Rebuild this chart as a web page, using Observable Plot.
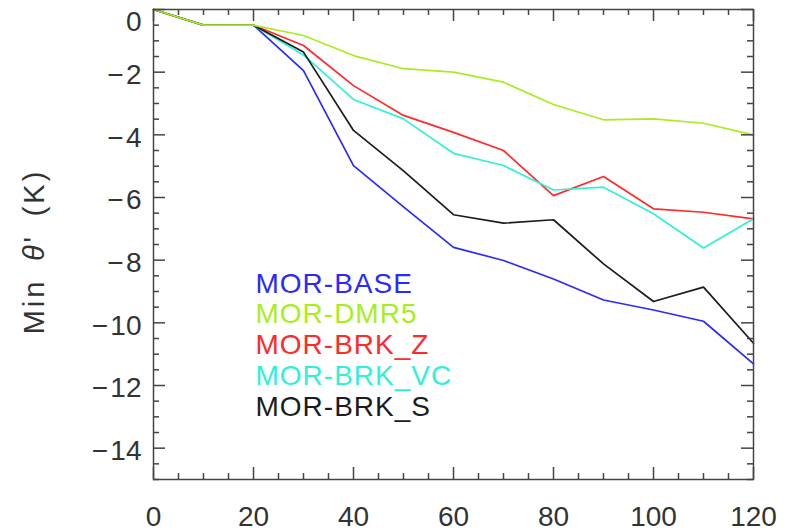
<!DOCTYPE html>
<html><head><meta charset="utf-8">
<script src="https://cdn.jsdelivr.net/npm/d3@7"></script>
<script src="https://cdn.jsdelivr.net/npm/@observablehq/plot@0.6"></script>
<style>body{margin:0;background:#fff}</style>
</head><body><div id="chart"></div>
<script>
// ---- data ----
const times = [0, 10, 20, 30, 40, 50, 60, 70, 80, 90, 100, 110, 120];
const seriesNames = ["MOR-BASE", "MOR-DMR5", "MOR-BRK_Z", "MOR-BRK_VC", "MOR-BRK_S"];
const seriesColors = ["#2a2aff", "#a8ee1c", "#ff2a2a", "#30f0d8", "#1c1c1c"];
const morBase  = [0, -0.5, -0.5, -1.95, -4.98, -6.30, -7.59, -8.01, -8.60, -9.27, -9.59, -9.95, -11.31];
const morDmr5  = [0, -0.5, -0.5, -0.83, -1.47, -1.89, -2.00, -2.32, -3.03, -3.52, -3.49, -3.63, -4.00];
const morBrkZ  = [0, -0.5, -0.5, -1.15, -2.43, -3.38, -3.92, -4.50, -5.94, -5.33, -6.36, -6.47, -6.68];
const morBrkVC = [0, -0.5, -0.5, -1.45, -2.87, -3.49, -4.59, -4.98, -5.76, -5.67, -6.52, -7.61, -6.68];
const morBrkS  = [0, -0.5, -0.5, -1.36, -3.86, -5.15, -6.55, -6.82, -6.71, -8.12, -9.32, -8.86, -10.65];
const xTickLabels = [0, 20, 40, 60, 80, 100, 120];
const yTickLabels = [0, -2, -4, -6, -8, -10, -12, -14];
const yTitle = "Min\u2002\u03B8'\u2002(K)";

// ---- build table ----
const seriesValues = {"MOR-BASE": morBase, "MOR-DMR5": morDmr5, "MOR-BRK_Z": morBrkZ, "MOR-BRK_VC": morBrkVC, "MOR-BRK_S": morBrkS};
const drawOrder = ["MOR-BASE", "MOR-BRK_Z", "MOR-BRK_VC", "MOR-BRK_S", "MOR-DMR5"];
const rows = drawOrder.flatMap(name => times.map((t, i) => ({name, t, v: seriesValues[name][i]})));

const xMinor = d3.range(0, 121, 5).filter(d => !xTickLabels.includes(d));
const yMinor = d3.range(0, -15.01, -0.5).filter(d => !yTickLabels.includes(d));

const W = 786, H = 532, mL = 153, mR = 33, mT = 9, mB = 53;
const fw = W - mL - mR, fh = H - mT - mB;
const axisColor = "#444";
const font = "'Liberation Sans', Arial, Helvetica, sans-serif";

const tickOpts = {stroke: axisColor, strokeWidth: 1.5};
const fmt = d => d === 0 ? "0" : "\u2212\u200A" + Math.abs(d);

const legendMarks = seriesNames.map((name, i) =>
  Plot.text([name], {
    text: d => d, frameAnchor: "top-left", textAnchor: "start", lineAnchor: "bottom",
    dx: 102, dy: 283 + i * 30.75, fill: seriesColors[i], fontSize: 28
  })
);

const chart = Plot.plot({
  width: W, height: H,
  marginLeft: mL, marginRight: mR, marginTop: mT, marginBottom: mB,
  style: {background: "white", color: "#333", fontFamily: font},
  x: {domain: [0, 120], axis: null},
  y: {domain: [-15, 0], axis: null},
  color: {domain: seriesNames, range: seriesColors},
  marks: [
    Plot.line(rows, {x: "t", y: "v", z: "name", stroke: "name", strokeWidth: 1.7}),
    Plot.frame({stroke: axisColor, strokeWidth: 1.5}),
    // bottom & top ticks (inward)
    Plot.tickX(xTickLabels, {x: d => d, ...tickOpts, insetTop: fh - 12}),
    Plot.tickX(xTickLabels, {x: d => d, ...tickOpts, insetBottom: fh - 12}),
    Plot.tickX(xMinor, {x: d => d, ...tickOpts, insetTop: fh - 6}),
    Plot.tickX(xMinor, {x: d => d, ...tickOpts, insetBottom: fh - 6}),
    // left & right ticks (inward)
    Plot.tickY(yTickLabels, {y: d => d, ...tickOpts, insetRight: fw - 12}),
    Plot.tickY(yTickLabels, {y: d => d, ...tickOpts, insetLeft: fw - 12}),
    Plot.tickY(yMinor, {y: d => d, ...tickOpts, insetRight: fw - 6}),
    Plot.tickY(yMinor, {y: d => d, ...tickOpts, insetLeft: fw - 6}),
    // tick labels
    Plot.axisX({ticks: xTickLabels, tickSize: 0, tickPadding: 27, fontSize: 28, label: null, fill: "#333"}),
    Plot.axisY({ticks: yTickLabels.filter(d => d !== 0), tickSize: 0, tickPadding: 12, fontSize: 28, label: null, tickFormat: fmt, dy: 3, fill: "#333"}),
    Plot.axisY({ticks: [0], tickSize: 0, tickPadding: 12, fontSize: 28, label: null, tickFormat: fmt, dy: 13, fill: "#333"}),
    // y title
    Plot.text([yTitle], {text: d => d, frameAnchor: "left", rotate: -90, dx: -110, dy: 7, textAnchor: "middle", lineAnchor: "bottom", fontSize: 29, fill: "#333"}),
    ...legendMarks
  ]
});

document.getElementById("chart").appendChild(chart);

// styling tweaks: letter spacing and italic theta
chart.querySelectorAll("text").forEach(t => {
  if (t.textContent === yTitle) {
    t.setAttribute("letter-spacing", "3");
    const parts = yTitle.split("\u03B8");
    t.textContent = "";
    const ns = "http://www.w3.org/2000/svg";
    const a = document.createElementNS(ns, "tspan"); a.textContent = parts[0];
    const b = document.createElementNS(ns, "tspan"); b.textContent = "\u03B8"; b.setAttribute("font-style", "italic");
    const c = document.createElementNS(ns, "tspan"); c.textContent = parts[1];
    t.append(a, b, c);
  }
  if (seriesNames.includes(t.textContent)) t.setAttribute("letter-spacing", "1");
});
</script>
</body></html>
